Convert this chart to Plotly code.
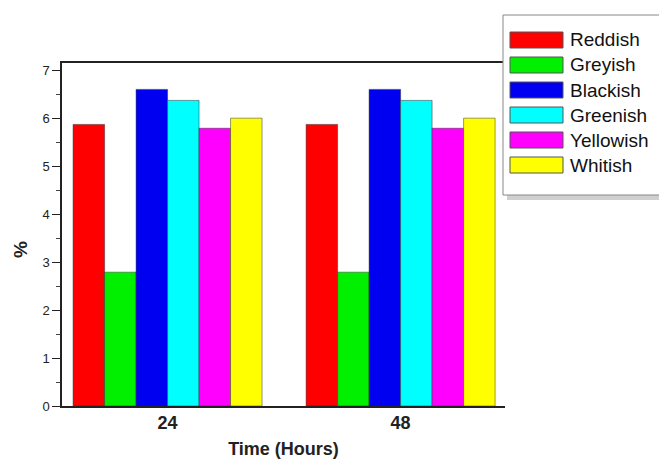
import plotly.graph_objects as go

categories = ["24", "48"]
series_names = ["Reddish", "Greyish", "Blackish", "Greenish", "Yellowish", "Whitish"]
reddish = [5.87, 5.87]
greyish = [2.79, 2.79]
blackish = [6.60, 6.60]
greenish = [6.37, 6.37]
yellowish = [5.79, 5.79]
whitish = [6.00, 6.00]
series_values = [reddish, greyish, blackish, greenish, yellowish, whitish]
colors = ["#FF0000", "#00F000", "#0000F0", "#00FFFF", "#FF00FF", "#FFFF00"]
y_ticks = [0, 1, 2, 3, 4, 5, 6, 7]

W, H = 659, 459
L, R, T, B = 62, 505, 63, 406  # plot area in px

fig = go.Figure()
for name, vals, c in zip(series_names, series_values, colors):
    fig.add_trace(go.Bar(
        x=categories, y=vals, name=name,
        marker=dict(color=c, line=dict(color="rgba(40,40,40,0.6)", width=0.8)),
        showlegend=False,
    ))

def px2paper(px, py):
    return (px - L) / (R - L), (B - py) / (B - T)

shapes = []
annotations = []
# legend box with shadow
x0, y0 = px2paper(507, 19)
x1, y1 = px2paper(680, 200)
shapes.append(dict(type="rect", xref="paper", yref="paper", x0=x0, x1=x1, y0=y0, y1=y1,
                   line=dict(width=0), fillcolor="rgba(150,150,150,0.45)", layer="above"))
x0, y0 = px2paper(503, 15)
x1, y1 = px2paper(680, 195)
shapes.append(dict(type="rect", xref="paper", yref="paper", x0=x0, x1=x1, y0=y0, y1=y1,
                   line=dict(width=1, color="#888888"), fillcolor="white", layer="above"))
for i, (name, c) in enumerate(zip(series_names, colors)):
    cy = 40 + i * 25
    sx0, sy0 = px2paper(510, cy - 8)
    sx1, sy1 = px2paper(563, cy + 8)
    shapes.append(dict(type="rect", xref="paper", yref="paper", x0=sx0, x1=sx1, y0=sy1, y1=sy0,
                       line=dict(width=1, color="#555555"), fillcolor=c, layer="above"))
    tx, ty = px2paper(568, cy)
    annotations.append(dict(text=name, xref="paper", yref="paper", x=tx, y=ty,
                            xanchor="left", yanchor="middle", showarrow=False,
                            font=dict(family="Liberation Sans, Arial", size=19, color="#111111")))

# y-axis title "%"
ax, ay = px2paper(20, 250)
annotations.append(dict(text="<b>%</b>", xref="paper", yref="paper", x=ax, y=ay,
                        xanchor="center", yanchor="middle", showarrow=False, textangle=-90,
                        font=dict(family="Liberation Sans, Arial", size=19, color="#222222")))

fig.update_layout(
    width=W, height=H,
    margin=dict(l=L, r=W - R, t=T, b=H - B, autoexpand=False),
    paper_bgcolor="white", plot_bgcolor="white",
    barmode="group", bargap=0.189, bargroupgap=0,
    font=dict(family="Liberation Sans, Arial", color="#222222"),
    shapes=shapes, annotations=annotations,
    xaxis=dict(
        type="category", range=[-0.453, 1.448], automargin=False,
        showline=True, linecolor="#222222", linewidth=1.5, mirror=True,
        ticks="", showgrid=False, zeroline=False,
        tickfont=dict(size=18, color="#222222"),
        tickprefix="<b>", ticksuffix="</b>",
        title=dict(text="<b>Time (Hours)</b>", font=dict(size=18, color="#222222"), standoff=14),
    ),
    yaxis=dict(
        range=[0, 7.15], tickvals=y_ticks, automargin=False,
        showline=True, linecolor="#222222", linewidth=1.5,
        ticks="outside", ticklen=8, tickwidth=1.2, tickcolor="#222222",
        minor=dict(ticks="outside", ticklen=4, dtick=0.5, tickcolor="#444444"),
        showgrid=False, zeroline=False,
        tickfont=dict(size=13, color="#222222"),
        tickprefix="<b>", ticksuffix="</b>",
    ),
)

fig.write_html("out.html", config={"displayModeBar": False},
               post_script="document.body.style.margin='0';document.body.style.overflow='hidden';")
